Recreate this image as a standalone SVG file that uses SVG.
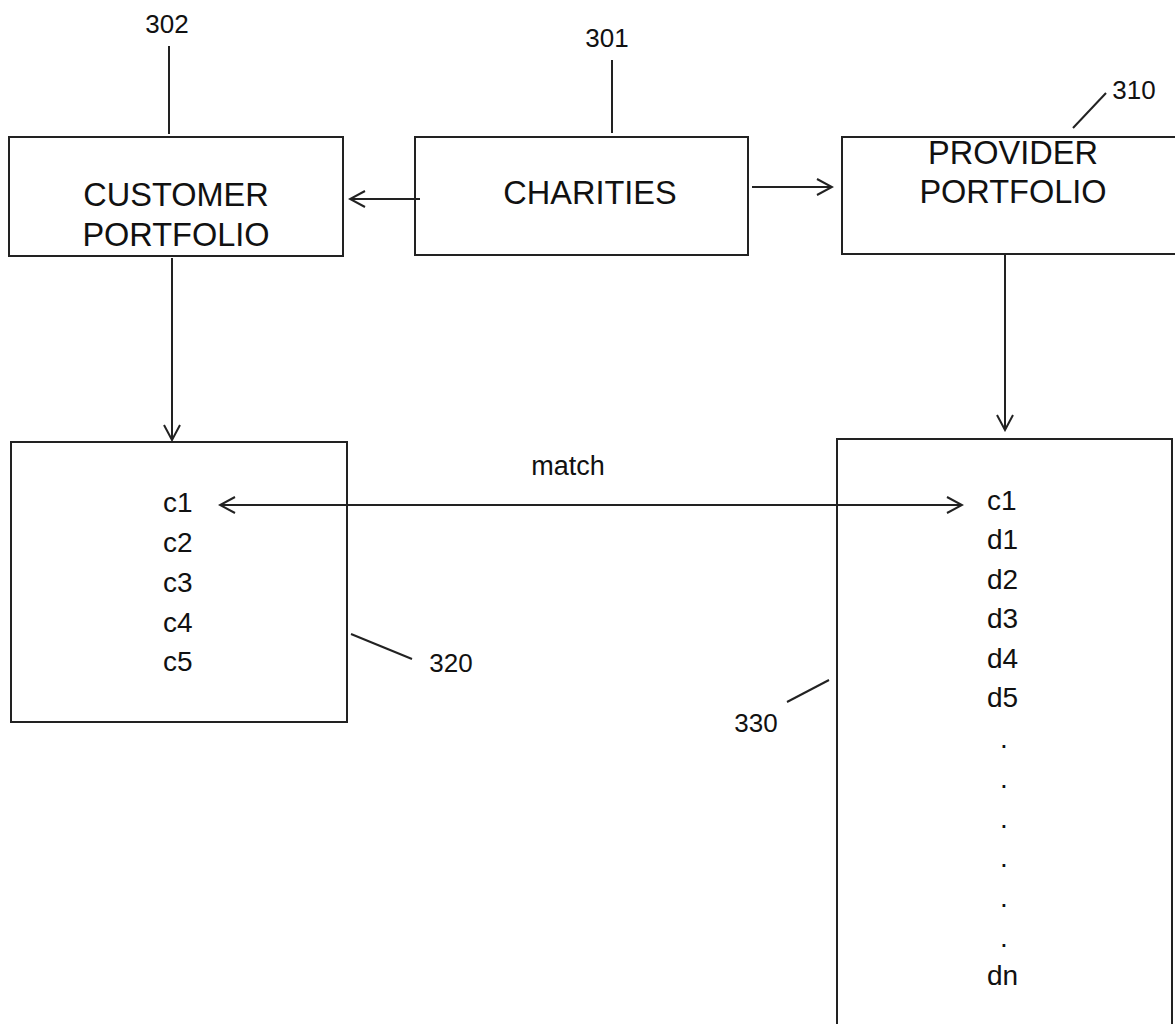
<svg xmlns="http://www.w3.org/2000/svg" width="1175" height="1024" viewBox="0 0 1175 1024">
<defs>
<style>
.box{fill:#fff;stroke:#222;stroke-width:2}
.ln{fill:none;stroke:#222;stroke-width:2}
.t{font-family:"Liberation Sans",Arial,sans-serif;fill:#111}
.big{font-size:32.5px}
.item{font-size:28px}
.ref{font-size:26px}
.lbl{font-size:27px}
</style>
<marker id="ah" viewBox="0 0 20 20" refX="18" refY="10" markerWidth="20" markerHeight="20" markerUnits="userSpaceOnUse" orient="auto-start-reverse">
<path d="M3,2 L18,10 L3,18" fill="none" stroke="#222" stroke-width="2"/>
</marker>
</defs>
<rect width="1175" height="1024" fill="#fff"/>

<g id="node-customer">
<rect class="box" x="9" y="137" width="334" height="119"/>
<text class="t big" x="176" y="206" text-anchor="middle">CUSTOMER</text>
<text class="t big" x="176" y="246" text-anchor="middle">PORTFOLIO</text>
</g>
<g id="node-charities">
<rect class="box" x="415" y="137" width="333" height="118"/>
<text class="t big" x="590" y="204" text-anchor="middle">CHARITIES</text>
</g>
<g id="node-provider">
<rect class="box" x="842" y="137" width="340" height="117"/>
<text class="t big" x="1013" y="164" text-anchor="middle">PROVIDER</text>
<text class="t big" x="1013" y="203" text-anchor="middle">PORTFOLIO</text>
</g>
<g id="node-320">
<rect class="box" x="11" y="442" width="336" height="280"/>
<text class="t item" x="163" y="512">c1</text>
<text class="t item" x="163" y="552">c2</text>
<text class="t item" x="163" y="592">c3</text>
<text class="t item" x="163" y="632">c4</text>
<text class="t item" x="163" y="671">c5</text>
</g>
<g id="node-330">
<rect class="box" x="837" y="439" width="335" height="600"/>
<text class="t item" x="987" y="510">c1</text>
<text class="t item" x="987" y="549">d1</text>
<text class="t item" x="987" y="589">d2</text>
<text class="t item" x="987" y="628">d3</text>
<text class="t item" x="987" y="668">d4</text>
<text class="t item" x="987" y="707">d5</text>
<text class="t item" x="1004" y="748" text-anchor="middle">.</text>
<text class="t item" x="1004" y="788" text-anchor="middle">.</text>
<text class="t item" x="1004" y="828" text-anchor="middle">.</text>
<text class="t item" x="1004" y="867" text-anchor="middle">.</text>
<text class="t item" x="1004" y="907" text-anchor="middle">.</text>
<text class="t item" x="1004" y="947" text-anchor="middle">.</text>
<text class="t item" x="987" y="985">dn</text>
</g>

<g id="labels">
<text class="t ref" x="167" y="33" text-anchor="middle">302</text>
<text class="t ref" x="607" y="47" text-anchor="middle">301</text>
<text class="t ref" x="1134" y="99" text-anchor="middle">310</text>
<text class="t ref" x="451" y="672" text-anchor="middle">320</text>
<text class="t ref" x="756" y="732" text-anchor="middle">330</text>
<text class="t lbl" x="568" y="475" text-anchor="middle">match</text>
</g>

<g id="connectors">
<line class="ln" x1="169" y1="46" x2="169" y2="134"/>
<line class="ln" x1="612" y1="60" x2="612" y2="133"/>
<line class="ln" x1="1073" y1="128" x2="1106" y2="93"/>
<line class="ln" x1="351" y1="634" x2="412" y2="659"/>
<line class="ln" x1="787" y1="702" x2="829" y2="680"/>
<line class="ln" x1="420" y1="199" x2="350" y2="199" marker-end="url(#ah)"/>
<line class="ln" x1="752" y1="187" x2="832" y2="187" marker-end="url(#ah)"/>
<line class="ln" x1="172" y1="258" x2="172" y2="440" marker-end="url(#ah)"/>
<line class="ln" x1="1005" y1="255" x2="1005" y2="430" marker-end="url(#ah)"/>
<line class="ln" x1="220" y1="505" x2="962" y2="505" marker-start="url(#ah)" marker-end="url(#ah)"/>
</g>
</svg>
